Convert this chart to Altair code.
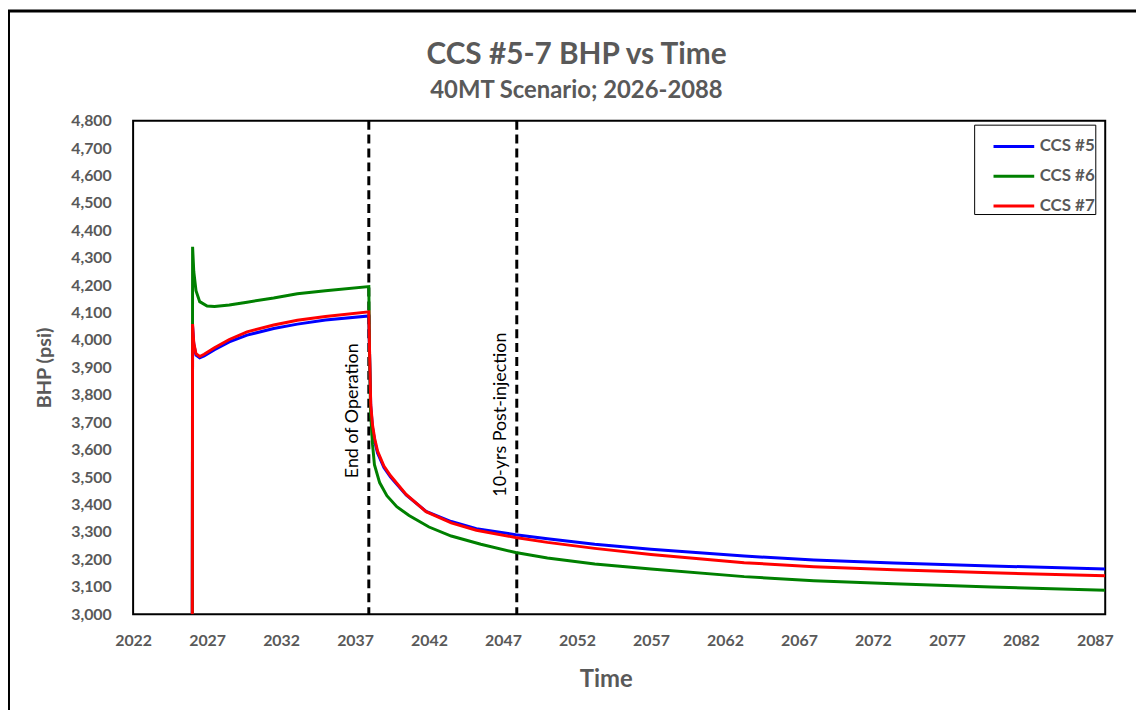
import altair as alt
import pandas as pd

# ---------------- data ----------------
series_names = ["CCS #5", "CCS #6", "CCS #7"]
series_colors = ["#0000FF", "#008000", "#FF0000"]

t5 = [2026.00, 2026.02, 2026.10, 2026.25, 2026.50, 2026.80, 2027.50, 2028.50, 2029.70,
      2031.50, 2033.10, 2035.00, 2037.93, 2037.98, 2038.06, 2038.18, 2038.33, 2038.52,
      2038.95, 2039.40, 2040.45, 2041.80, 2043.50, 2045.20, 2047.85, 2050.00, 2053.20,
      2057.00, 2063.30, 2068.00, 2073.40, 2080.00, 2087.70]
bhp5 = [3000, 4050, 3985, 3945, 3935, 3942, 3965, 3993, 4018,
        4042, 4058, 4073, 4088, 3950, 3760, 3680, 3630, 3588,
        3535, 3500, 3435, 3375, 3338, 3312, 3290, 3275, 3255,
        3237, 3212, 3198, 3187, 3176, 3165]

t6 = [2026.00, 2026.02, 2026.10, 2026.25, 2026.50, 2027.00, 2027.50, 2028.50, 2029.70,
      2031.50, 2033.10, 2035.00, 2037.93, 2037.98, 2038.05, 2038.18, 2038.31, 2038.66,
      2039.15, 2039.82, 2040.65, 2042.00, 2043.50, 2045.50, 2047.85, 2050.00, 2053.20,
      2057.00, 2063.30, 2068.00, 2073.40, 2080.00, 2087.70]
bhp6 = [3000, 4340, 4250, 4180, 4140, 4124, 4122, 4128, 4138,
        4153, 4169, 4180, 4195, 3950, 3735, 3620, 3545, 3480,
        3432, 3392, 3360, 3318, 3285, 3255, 3225, 3205, 3183,
        3165, 3137, 3122, 3111, 3099, 3087]

t7 = [2026.00, 2026.02, 2026.10, 2026.25, 2026.50, 2026.80, 2027.50, 2028.50, 2029.70,
      2031.50, 2033.10, 2035.00, 2037.93, 2037.98, 2038.06, 2038.18, 2038.33, 2038.52,
      2038.95, 2039.40, 2040.45, 2041.80, 2043.50, 2045.20, 2047.85, 2050.00, 2053.20,
      2057.00, 2063.30, 2068.00, 2073.40, 2080.00, 2087.70]
bhp7 = [3000, 4058, 3990, 3950, 3940, 3948, 3972, 4002, 4030,
        4055, 4072, 4086, 4103, 3960, 3765, 3690, 3640, 3595,
        3540, 3505, 3437, 3374, 3333, 3306, 3280, 3262, 3240,
        3218, 3188, 3173, 3162, 3151, 3140]

event_years = [2037.93, 2047.93]
event_labels = ["End of Operation", "10-yrs Post-injection"]
event_label_bhp = [3742, 3728]

x_ticks = list(range(2022, 2088, 5))
y_ticks = list(range(3000, 4801, 100))
x_domain = [2022, 2087.7]
y_domain = [3000, 4800]

# ---------------- tables ----------------
rows = []
for name, ts, vs in zip(series_names, [t5, t6, t7], [bhp5, bhp6, bhp7]):
    for i, (t, v) in enumerate(zip(ts, vs)):
        rows.append({"Well": name, "Time": t, "BHP": v, "idx": i})
df = pd.DataFrame(rows)

ev = pd.DataFrame({"Time": event_years, "label": event_labels, "BHP": event_label_bhp})

FONT = "Lato"
GRAY = "#595959"

x_scale = alt.Scale(domain=x_domain, nice=False, zero=False)
y_scale = alt.Scale(domain=y_domain, nice=False, zero=False)

x_axis = alt.Axis(values=x_ticks, format="d", title="Time", grid=False,
                  ticks=False, domain=False, labelFont=FONT, labelFontSize=16,
                  labelFontWeight="bold", labelColor=GRAY, labelPadding=19,
                  labelOverlap=False, labelFlush=False,
                  titleFont=FONT, titleFontSize=24, titleFontWeight="bold",
                  titleColor=GRAY, titlePadding=19, titleX=476)
y_axis = alt.Axis(values=y_ticks, format=",d", title="BHP (psi)", grid=False,
                  ticks=False, domain=False, labelFont=FONT, labelFontSize=16,
                  labelFontWeight="bold", labelColor=GRAY, labelPadding=22,
                  labelOverlap=False, labelFlush=False,
                  titleFont=FONT, titleFontSize=20, titleFontWeight="bold",
                  titleColor=GRAY, titlePadding=16)

lines = alt.Chart(df).mark_line(strokeWidth=3, clip=True).encode(
    x=alt.X("Time:Q", scale=x_scale, axis=x_axis),
    y=alt.Y("BHP:Q", scale=y_scale, axis=y_axis),
    color=alt.Color("Well:N",
                    scale=alt.Scale(domain=series_names, range=series_colors),
                    legend=alt.Legend(title=None, orient="none", legendX=847, legendY=4,
                                      symbolType="stroke", symbolStrokeWidth=3,
                                      symbolSize=1680, symbolOffset=18,
                                      labelFont=FONT, labelFontSize=17,
                                      labelFontWeight="bold", labelColor=GRAY,
                                      labelExpr="datum.label + '\u00a0\u00a0\u00a0\u00a0'",
                                      strokeColor="black", fillColor="white",
                                      padding=0, rowPadding=0, labelOffset=4)),
    order=alt.Order("idx:Q"),
    detail="Well:N",
)

rules = alt.Chart(ev).mark_rule(color="black", strokeWidth=3, strokeDash=[9, 5]).encode(
    x=alt.X("Time:Q", scale=x_scale, axis=x_axis)
)

labels = alt.Chart(ev).mark_text(angle=270, font=FONT, fontSize=18, color="black",
                                 align="center", baseline="middle", dy=-16).encode(
    x=alt.X("Time:Q", scale=x_scale, axis=x_axis),
    y=alt.Y("BHP:Q", scale=y_scale, axis=y_axis),
    text="label:N",
)

border = alt.Chart(alt.Data(values=[{}])).mark_rect(
    fill=None, stroke="black", strokeWidth=3
).encode(
    x=alt.value(-125.5), x2=alt.value(1040), y=alt.value(-110.5), y2=alt.value(640)
)

chart = alt.layer(border, rules, labels, lines).properties(
    width=979,
    height=497,
    background="white",
    autosize=alt.AutoSizeParams(type="none"),
    padding={"left": 126, "top": 111, "right": 31, "bottom": 94},
    title=alt.TitleParams(
        text="CCS #5-7 BHP vs Time",
        subtitle="40MT Scenario; 2026-2088",
        anchor="middle", frame="group", dx=-43, dy=94, offset=0,
        font=FONT, fontSize=30, fontWeight="bold", color=GRAY,
        subtitleFont=FONT, subtitleFontSize=24, subtitleFontWeight="bold",
        subtitleColor=GRAY, subtitlePadding=9,
    ),
).configure_view(stroke="black", strokeWidth=2)

chart.save("out.html", embed_options={"renderer": "svg", "actions": False})
